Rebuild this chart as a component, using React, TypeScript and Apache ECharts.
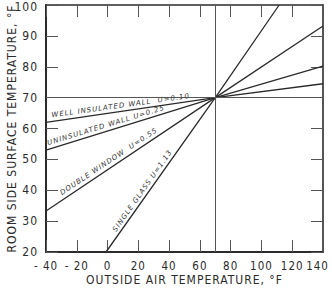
import React, { useEffect, useRef } from "react";
import * as echarts from "echarts";

// Data
const xTicks = [-40, -20, 0, 20, 40, 60, 80, 100, 120, 140];
const yTicks = [20, 30, 40, 50, 60, 70, 80, 90, 100];

const wellInsulatedX = [-40, 70, 140];
const wellInsulatedY = [62, 70, 74.5];
const uninsulatedX = [-40, 70, 140];
const uninsulatedY = [53, 70, 80.2];
const doubleWindowX = [-40, 70, 140];
const doubleWindowY = [33.3, 70, 93.2];
const singleGlassX = [-1, 70, 111.5];
const singleGlassY = [20, 70, 100];

const balancePoint = 70;

const labelTexts = [
  "WELL INSULATED WALL  U=0.10",
  "UNINSULATED WALL U=0.25",
  "DOUBLE WINDOW  U=0.55",
  "SINGLE GLASS U=1.13",
];
const labelAtX = [9, 0, 3, 26];

const FONT = "'Liberation Sans Narrow', 'DejaVu Sans Condensed', sans-serif";
const INK = "#2b2b2b";

function pairs(xs: number[], ys: number[]) {
  return xs.map((x, i) => [x, ys[i]]);
}

export default function App() {
  const ref = useRef<HTMLDivElement>(null);
  useEffect(() => {
    if (!ref.current) return;
    const chart = echarts.init(ref.current, null, { renderer: "svg" });
    const series = [
      pairs(wellInsulatedX, wellInsulatedY),
      pairs(uninsulatedX, uninsulatedY),
      pairs(doubleWindowX, doubleWindowY),
      pairs(singleGlassX, singleGlassY),
    ];
    const axisLine = { show: true, onZero: false, lineStyle: { color: INK, width: 1.6 } };
    const tick = { show: true, inside: true, length: 12, lineStyle: { color: "#555", width: 1 } };
    const yMax = yTicks[yTicks.length - 1];
    const xMax = xTicks[xTicks.length - 1];
    chart.setOption({
      animation: false,
      backgroundColor: "#fff",
      grid: { left: 46, right: 9, top: 5, bottom: 36, containLabel: false, outerBoundsMode: "none" },
      xAxis: [
        {
          type: "value",
          min: -40,
          max: 140,
          interval: 20,
          position: "bottom",
          axisLine: { show: true, onZero: false, lineStyle: { color: INK, width: 2 } },
          axisTick: tick,
          splitLine: { show: false },
          axisLabel: {
            margin: 8,
            color: INK,
            fontFamily: FONT,
            fontSize: 11.5,
            formatter: (v: number) =>
              xTicks.includes(v)
                ? v === xMax
                  ? "{last|" + v + "}"
                  : v < 0
                  ? "- " + Math.abs(v)
                  : String(v)
                : "",
            rich: {
              last: { color: INK, fontFamily: FONT, fontSize: 11.5, padding: [0, 11, 0, 0] },
            },
          },
          name: "OUTSIDE AIR TEMPERATURE, °F",
          nameLocation: "middle",
          nameGap: 22,
          nameMoveOverlap: false,
          nameTextStyle: { color: INK, fontFamily: FONT, fontSize: 12, lineHeight: 12 },
        },
        {
          type: "value",
          min: -40,
          max: 140,
          interval: 20,
          position: "top",
          axisLine,
          axisTick: tick,
          axisLabel: { show: false },
          splitLine: { show: false },
        },
      ],
      yAxis: [
        {
          type: "value",
          min: 20,
          max: 100,
          interval: 10,
          position: "left",
          axisLine: { show: true, onZero: false, lineStyle: { color: INK, width: 2 } },
          axisTick: tick,
          splitLine: { show: false },
          axisLabel: {
            margin: 8,
            color: INK,
            fontFamily: FONT,
            fontSize: 12,
            lineHeight: 10,
            formatter: (v: number) =>
              yTicks.includes(v) ? (v === yMax ? "{top|" + v + "}" : String(v)) : "",
            rich: {
              top: { color: INK, fontFamily: FONT, fontSize: 12, lineHeight: 10, padding: [3, 0, 0, 0] },
            },
          },
          name: "ROOM SIDE SURFACE TEMPERATURE, °F",
          nameLocation: "middle",
          nameGap: 28,
          nameRotate: 90,
          nameMoveOverlap: false,
          nameTextStyle: { color: INK, fontFamily: FONT, fontSize: 12, lineHeight: 12 },
        },
        {
          type: "value",
          min: 20,
          max: 100,
          interval: 10,
          position: "right",
          axisLine,
          axisTick: tick,
          axisLabel: { show: false },
          splitLine: { show: false },
        },
      ],
      series: series.map((d, i) => ({
        type: "line",
        data: d,
        symbol: "none",
        silent: true,
        lineStyle: { color: INK, width: 1.3 },
        markLine:
          i === 0
            ? {
                silent: true,
                symbol: "none",
                label: { show: false },
                lineStyle: { color: "#555", width: 1, type: "solid" },
                data: [{ xAxis: balancePoint }, { yAxis: balancePoint }],
              }
            : undefined,
      })),
    });

    const graphics = labelTexts.map((text, i) => {
      const xs = [wellInsulatedX, uninsulatedX, doubleWindowX, singleGlassX][i];
      const ys = [wellInsulatedY, uninsulatedY, doubleWindowY, singleGlassY][i];
      const slope = (ys[2] - ys[0]) / (xs[2] - xs[0]);
      const lx = labelAtX[i];
      const ly = ys[1] + slope * (lx - xs[1]);
      const p = chart.convertToPixel({ xAxisIndex: 0, yAxisIndex: 0 }, [lx, ly]) as number[];
      const q = chart.convertToPixel({ xAxisIndex: 0, yAxisIndex: 0 }, [lx + 10, ly + slope * 10]) as number[];
      const a = Math.atan2(-(q[1] - p[1]), q[0] - p[0]);
      const d = i >= 2 ? 6 : 5;
      return {
        type: "text",
        x: p[0] - Math.sin(a) * d,
        y: p[1] - Math.cos(a) * d,
        rotation: a,
        silent: true,
        style: {
          text,
          fill: "#333",
          font: `italic 7px 'DejaVu Sans', sans-serif`,
          align: "center",
          verticalAlign: "middle",
        },
      };
    });
    chart.setOption({ graphic: graphics });

    return () => chart.dispose();
  }, []);
  return (
    <div
      ref={ref}
      style={{ width: 332, height: 288, position: "absolute", left: 0, top: 0, letterSpacing: "1px" }}
    />
  );
}
